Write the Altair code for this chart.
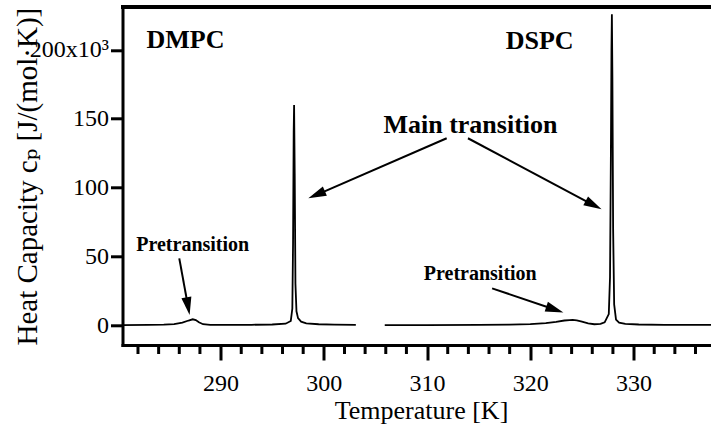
import math
import altair as alt
import pandas as pd

# ---------------- data ----------------
dmpc_T = [280.5, 283.0, 284.5, 285.5, 286.3, 286.9, 287.3, 287.6, 287.9, 288.3, 289.0,
          291.0, 293.0, 295.0, 296.3, 296.8, 296.95, 297.02, 297.08, 297.12, 297.18,
          297.25, 297.35, 297.5, 297.8, 298.3, 299.5, 301.0, 303.1]
dmpc_cp = [0.0, 0.1, 0.3, 0.7, 1.8, 3.3, 4.2, 3.6, 2.0, 0.6, 0.2,
           0.1, 0.2, 0.4, 1.0, 3.0, 12.0, 60.0, 140.0, 160.0, 110.0,
           30.0, 10.0, 5.0, 2.5, 1.2, 0.6, 0.3, 0.2]

dspc_T = [305.9, 310.0, 315.0, 318.0, 320.0, 321.5, 322.5, 323.3, 323.8, 324.1, 324.5,
          325.0, 325.6, 326.2, 326.8, 327.2, 327.6, 327.72, 327.8, 327.86, 327.9,
          327.95, 328.02, 328.12, 328.3, 328.6, 329.2, 330.5, 333.0, 337.5]
dspc_cp = [0.0, 0.0, 0.1, 0.3, 0.7, 1.4, 2.3, 3.3, 3.6, 3.7, 3.4,
           2.5, 1.2, 0.6, 0.9, 2.0, 8.0, 35.0, 120.0, 200.0, 226.0,
           180.0, 70.0, 15.0, 4.0, 1.8, 0.8, 0.4, 0.2, 0.1]

x_ticks = [290, 300, 310, 320, 330]
x_minor = [282, 284, 286, 288, 292, 294, 296, 298, 302, 304, 306, 308,
           312, 314, 316, 318, 322, 324, 326, 328, 332, 334, 336]
y_ticks = [0, 50, 100, 150, 200]

label_text = ["DMPC", "DSPC", "Main transition", "Pretransition", "Pretransition"]
label_x = [286.6, 320.9, 314.2, 287.3, 315.15]
label_y = [201.2, 200.5, 139.4, 54.0, 32.7]
label_size = [26, 26, 26, 20, 20]

arrow_x1 = [311.9, 313.96, 286.0, 316.3]
arrow_y1 = [135.8, 135.8, 48.5, 26.7]
arrow_x2 = [298.5, 326.9, 287.0, 323.2]
arrow_y2 = [92.1, 84.1, 7.3, 9.2]

# ---------------- layout constants ----------------
X_DOM = [280.5, 337.5]
Y_DOM = [-14.5, 231.0]
W = 588.5
H = 337.7
FONT = "Liberation Serif"
TITLE_FONT = "Liberation Serif, DejaVu Serif, serif"
HEAD_LEN = 18.0

sx = W / (X_DOM[1] - X_DOM[0])
sy = H / (Y_DOM[1] - Y_DOM[0])

curves = pd.DataFrame(
    {"T": dmpc_T + dspc_T,
     "cp": dmpc_cp + dspc_cp,
     "series": ["DMPC"] * len(dmpc_T) + ["DSPC"] * len(dspc_T)}
)

labels = pd.DataFrame({"text": label_text, "x": label_x, "y": label_y, "size": label_size})

rows = []
for x1, y1, x2, y2 in zip(arrow_x1, arrow_y1, arrow_x2, arrow_y2):
    dxp = (x2 - x1) * sx
    dyp = -(y2 - y1) * sy
    L = math.hypot(dxp, dyp)
    ang = math.degrees(math.atan2(dxp, -dyp)) % 360
    f = (L - 0.6 * HEAD_LEN) / L
    rows.append({"x1": x1, "y1": y1, "x2": x2, "y2": y2,
                 "xe": x1 + (x2 - x1) * f, "ye": y1 + (y2 - y1) * f, "angle": ang})
arrows = pd.DataFrame(rows)

minor = pd.DataFrame({"t": x_minor})

xs = alt.Scale(domain=X_DOM, nice=False, zero=False)
ys = alt.Scale(domain=Y_DOM, nice=False, zero=False)

x_axis = alt.Axis(values=x_ticks, title="Temperature [K]", grid=False,
                  tickSize=15, tickWidth=3, domainWidth=3, domainCap="square",
                  labelFontSize=24, labelPadding=11, labelFont=FONT,
                  titleFont=FONT, titleFontSize=26, titleFontWeight="normal",
                  titleX=298.5, titleY=73.5, titleBaseline="alphabetic",
                  titleAlign="center")
y_axis = alt.Axis(values=y_ticks, title="Heat Capacity cₚ [J/(mol·K)]", grid=False,
                  tickSize=12, tickWidth=3, domainWidth=3, domainCap="square",
                  labelFontSize=24, labelPadding=2, labelFont=FONT,
                  labelExpr="datum.value == 200 ? '200x10³' : datum.label",
                  titleFont=TITLE_FONT, titleFontSize=29, titleFontWeight="normal",
                  titleX=-86.5, titleBaseline="alphabetic")

lines = alt.Chart(curves).mark_line(color="black", strokeWidth=1.8).encode(
    x=alt.X("T:Q", scale=xs, axis=x_axis),
    y=alt.Y("cp:Q", scale=ys, axis=y_axis),
    detail="series:N",
)

top_border = alt.Chart(curves).mark_rule(color="black", strokeWidth=3).encode(
    x=alt.value(-1.5), x2=alt.value(W + 5), y=alt.value(0)
)

minor_ticks = alt.Chart(minor).mark_rule(color="black", strokeWidth=3).encode(
    x=alt.X("t:Q", scale=xs), y=alt.value(H), y2=alt.value(H + 9)
)

texts = alt.Chart(labels).mark_text(font=FONT, fontWeight="bold", color="black",
                                    align="center", baseline="alphabetic").encode(
    x=alt.X("x:Q", scale=xs), y=alt.Y("y:Q", scale=ys),
    text="text:N", size=alt.Size("size:Q", scale=None, legend=None),
)

arrow_lines = alt.Chart(arrows).mark_rule(color="black", strokeWidth=2).encode(
    x=alt.X("x1:Q", scale=xs), y=alt.Y("y1:Q", scale=ys),
    x2="xe:Q", y2="ye:Q",
)

heads = alt.Chart(arrows).mark_point(
    shape="M0,0 L0.28,1 L-0.28,1 Z", filled=True, color="black", opacity=1,
    size=(2 * HEAD_LEN) ** 2, strokeWidth=0,
).encode(
    x=alt.X("x2:Q", scale=xs), y=alt.Y("y2:Q", scale=ys),
    angle=alt.Angle("angle:Q", scale=None),
)

chart = alt.layer(lines, minor_ticks, top_border, arrow_lines, heads, texts).properties(
    width=W, height=H,
    padding={"left": 122.5, "top": 7.3, "right": 0, "bottom": 81},
    autosize=alt.AutoSizeParams(type="none"),
    background="white",
).configure(font=FONT).configure_view(stroke="transparent").configure_axis(
    domainColor="black", tickColor="black", labelColor="black", titleColor="black"
)

chart.save("out.html", embed_options={"renderer": "svg", "actions": False})
